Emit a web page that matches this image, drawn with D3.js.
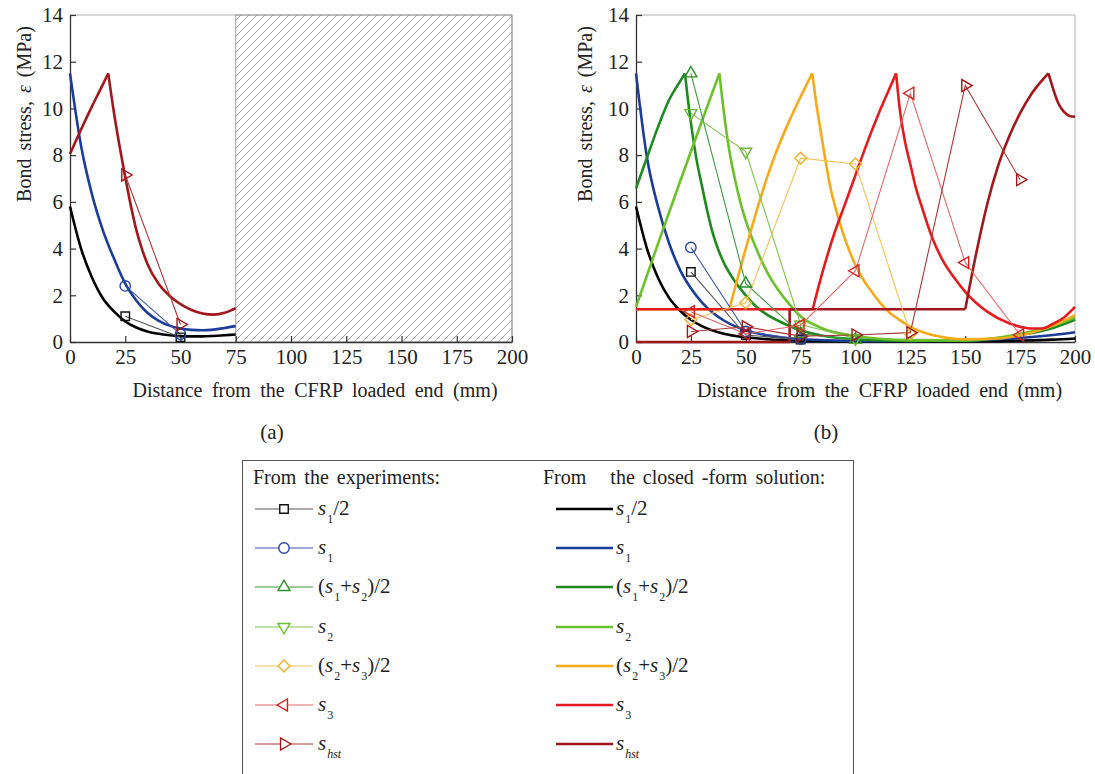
<!DOCTYPE html>
<html>
<head>
<meta charset="utf-8">
<script src="https://cdn.jsdelivr.net/npm/d3@7"></script>
<style>
  html, body { margin: 0; padding: 0; background: #fff; }
  svg { display: block; }
</style>
</head>
<body>
<div id="chart"></div>
<script>
// ---------------- DATA ----------------
const xTicks = [0, 25, 50, 75, 100, 125, 150, 175, 200];
const yTicks = [0, 2, 4, 6, 8, 10, 12, 14];

const seriesKeys = ["s1half", "s1", "s12", "s2", "s23", "s3", "shst"];
const closedColors = ["#000000", "#1c3c9a", "#1f8a1f", "#6cc02a", "#f4aa1c", "#e31b1e", "#a0181c"];
const expLineColors = ["#555555", "#3a55a5", "#3f9a3f", "#82c44e", "#f2c25a", "#e26a6a", "#a83838"];
const expMarkerColors = ["#111111", "#2347a6", "#2a8f2a", "#6cbd3a", "#f0b030", "#d42020", "#a01818"];
const markerTypes = ["square", "circle", "triUp", "triDown", "diamond", "triLeft", "triRight"];

// Panel (a): closed-form solution pieces ([x, y] in mm / MPa)
const aClosedS1Half = [[[0,5.8],[5,4.0],[10,2.75],[15,1.85],[20,1.3],[25,0.88],[30,0.62],[35,0.45],[40,0.35],[45,0.29],[50,0.25],[55,0.24],[60,0.24],[65,0.26],[70,0.29],[75,0.32]]];
const aClosedS1 = [[[0,11.5],[5,8.4],[10,6.3],[15,4.75],[20,3.55],[25,2.5],[30,1.78],[35,1.25],[40,0.92],[45,0.7],[50,0.58],[55,0.52],[60,0.5],[65,0.53],[70,0.6],[75,0.68]]];
const aClosedShst = [
  [[0,8.05],[5,9.1],[10,10.1],[15,11.05],[17.3,11.5]],
  [[17.3,11.5],[20,9.75],[22.5,8.35],[25,7.05],[27.5,5.85],[30,4.8],[32.5,4.0],[35,3.35],[40,2.5],[45,1.98],[50,1.62],[55,1.37],[60,1.22],[65,1.17],[70,1.25],[75,1.45]]
];

// Panel (a): experiments
const aExpS1HalfX = [25, 50], aExpS1HalfY = [1.1, 0.2];
const aExpS1X = [25, 50],     aExpS1Y = [2.4, 0.33];
const aExpShstX = [25, 50],   aExpShstY = [7.15, 0.75];

// Panel (b): closed-form solution pieces
const bClosedS1Half = [[[0,5.8],[5,4.0],[10,2.75],[15,1.9],[20,1.35],[25,0.95],[30,0.68],[40,0.35],[50,0.2],[60,0.12],[75,0.06],[100,0.03],[125,0.02],[150,0.03],[175,0.06],[190,0.1],[200,0.15]]];
const bClosedS1 = [[[0,11.5],[5,7.9],[10,5.8],[15,4.25],[20,3.1],[25,2.3],[30,1.7],[35,1.25],[40,0.92],[50,0.5],[60,0.28],[75,0.12],[100,0.05],[125,0.04],[150,0.06],[175,0.17],[190,0.3],[200,0.42]]];
const bClosedS12 = [
  [[0,6.58],[5,7.9],[10,9.2],[15,10.35],[20,11.15],[22.3,11.5]],
  [[22.3,11.5],[23.5,10.5],[25,9.4],[27.5,7.85],[30,6.7],[32.5,5.6],[35,4.65],[37.5,3.95],[40,3.4],[45,2.6],[50,2.0],[55,1.5],[60,1.15],[65,0.9],[75,0.5],[85,0.27],[100,0.12],[125,0.05],[150,0.06],[175,0.3],[190,0.6],[200,0.95]]
];
const bClosedS2 = [
  [[0,1.5],[10,4.2],[20,6.85],[30,9.45],[38,11.5]],
  [[38,11.5],[40,9.85],[42.5,8.2],[45,7.0],[47.5,6.0],[50,5.2],[55,3.95],[60,2.95],[65,2.2],[70,1.6],[75,1.1],[85,0.58],[100,0.26],[125,0.08],[150,0.07],[175,0.35],[190,0.7],[200,1.05]]
];
const bClosedS23 = [
  [[0,1.4],[42.5,1.4]],
  [[42.5,1.4],[50,4.0],[56.5,6.1],[61,7.4],[65,8.4],[70,9.5],[75,10.5],[80.3,11.5]],
  [[80.3,11.5],[82,10.3],[84,9.1],[86,7.95],[88.5,6.65],[91,5.7],[93,5.05],[96,4.2],[99,3.5],[103,2.75],[107,2.2],[111,1.7],[116,1.22],[120,0.95],[125,0.65],[135,0.3],[150,0.12],[165,0.15],[180,0.4],[190,0.7],[200,1.15]]
];
const bClosedS3 = [
  [[0,1.4],[80.5,1.4]],
  [[80.5,1.4],[85,3.0],[90,4.55],[95,5.85],[100,7.15],[105,8.45],[110,9.65],[115,10.75],[118.5,11.5]],
  [[118.5,11.5],[120,10.1],[122.5,8.6],[125,7.6],[127.5,6.6],[130,5.85],[135,4.45],[140,3.45],[145,2.75],[150,2.15],[160,1.3],[170,0.8],[180,0.58],[185,0.58],[190,0.78],[195,1.05],[200,1.5]]
];
const bClosedShst = [
  [[0,0],[70,0]],
  [[70,0],[70,1.4]],
  [[70,1.4],[150,1.4]],
  [[150,1.4],[155,3.8],[160,5.9],[165,7.55],[170,8.8],[175,9.8],[180,10.6],[185,11.2],[187.9,11.5]],
  [[187.9,11.5],[190,10.85],[192.5,10.2],[195,9.85],[197.5,9.68],[200,9.65]]
];

// Panel (b): experiments
const bExpS1HalfX = [25, 50, 75],   bExpS1HalfY = [3.0, 0.3, 0.1];
const bExpS1X = [25, 50, 75],       bExpS1Y = [4.05, 0.45, 0.12];
const bExpS12X = [25, 50, 75, 100], bExpS12Y = [11.5, 2.5, 0.35, 0.1];
const bExpS2X = [25, 50, 75, 100],  bExpS2Y = [9.8, 8.15, 0.75, 0.15];
const bExpS23X = [25, 50, 75, 100, 125], bExpS23Y = [0.95, 1.68, 7.87, 7.62, 0.35];
const bExpS3X = [25, 50, 75, 100, 125, 150, 175], bExpS3Y = [1.3, 0.35, 0.72, 3.05, 10.65, 3.4, 0.3];
const bExpShstX = [25, 50, 75, 100, 125, 150, 175], bExpShstY = [0.45, 0.65, 0.25, 0.3, 0.4, 10.98, 6.95];

// Legend labels (tokens: italic / subscript)
const legendLabels = [
  [{t:"s",it:1},{t:"1",sub:1},{t:"/2"}],
  [{t:"s",it:1},{t:"1",sub:1}],
  [{t:"("},{t:"s",it:1},{t:"1",sub:1},{t:"+"},{t:"s",it:1},{t:"2",sub:1},{t:")/2"}],
  [{t:"s",it:1},{t:"2",sub:1}],
  [{t:"("},{t:"s",it:1},{t:"2",sub:1},{t:"+"},{t:"s",it:1},{t:"3",sub:1},{t:")/2"}],
  [{t:"s",it:1},{t:"3",sub:1}],
  [{t:"s",it:1},{t:"hst",sub:1,it:1}]
];

// ---------------- DRAW ----------------
const W = 1095, H = 774;
const FONT = "'Liberation Serif','Times New Roman',serif";
const svg = d3.select("#chart").append("svg").attr("width", W).attr("height", H)
  .style("background", "#fff");

const defs = svg.append("defs");
const pat = defs.append("pattern").attr("id", "hatch").attr("patternUnits", "userSpaceOnUse")
  .attr("width", 8).attr("height", 8);
pat.append("path").attr("d", "M-2,2 L2,-2 M0,8 L8,0 M6,10 L10,6")
  .attr("stroke", "#9a9a9a").attr("stroke-width", 0.9);

function markerPath(type) {
  const tri = d3.symbol(d3.symbolTriangle, 62)();
  switch (type) {
    case "square": return {d: d3.symbol(d3.symbolSquare, 72)(), rot: 0};
    case "circle": return {d: d3.symbol(d3.symbolCircle, 85)(), rot: 0};
    case "diamond": return {d: d3.symbol(d3.symbolSquare, 70)(), rot: 45};
    case "triUp": return {d: tri, rot: 0};
    case "triDown": return {d: tri, rot: 180};
    case "triLeft": return {d: tri, rot: -90};
    case "triRight": return {d: tri, rot: 90};
  }
}

function panel(opt) {
  const x = d3.scaleLinear().domain([0, 200]).range([opt.x0, opt.x1]);
  const y = d3.scaleLinear().domain([0, 14]).range([342, 15]);
  const g = svg.append("g");

  // frame (top / right)
  g.append("line").attr("x1", x(0)).attr("x2", x(200)).attr("y1", y(14)).attr("y2", y(14))
    .attr("stroke", "#b0b0b0").attr("stroke-width", 1);
  g.append("line").attr("x1", x(200)).attr("x2", x(200)).attr("y1", y(14)).attr("y2", y(0))
    .attr("stroke", "#b0b0b0").attr("stroke-width", 1);

  if (opt.hatchFrom != null) {
    g.append("rect").attr("x", x(opt.hatchFrom)).attr("y", y(14))
      .attr("width", x(200) - x(opt.hatchFrom)).attr("height", y(0) - y(14))
      .attr("fill", "url(#hatch)").attr("stroke", "#9a9a9a").attr("stroke-width", 1);
  }

  const line = d3.line().x(d => x(d[0])).y(d => y(d[1])).curve(d3.curveMonotoneX);

  // axes
  const xa = g.append("g").attr("transform", `translate(0,${y(0)})`)
    .call(d3.axisBottom(x).tickValues(xTicks).tickSizeInner(-6).tickSizeOuter(0).tickPadding(7));
  const ya = g.append("g").attr("transform", `translate(${x(0)},0)`)
    .call(d3.axisLeft(y).tickValues(yTicks).tickSizeInner(-6).tickSizeOuter(0).tickPadding(7));
  [xa, ya].forEach(a => {
    a.select(".domain").attr("stroke", "#333").attr("stroke-width", 1.3);
    a.selectAll(".tick line").attr("stroke", "#333").attr("stroke-width", 1.2);
    a.selectAll(".tick text").attr("font-family", FONT).attr("font-size", 21).attr("fill", "#222");
  });

  // closed-form curves
  opt.closed.forEach(c => {
    c.pieces.forEach(p => {
      g.append("path").attr("d", line(p)).attr("fill", "none")
        .attr("stroke", closedColors[c.i]).attr("stroke-width", 2.6)
        .attr("stroke-linejoin", "miter").attr("stroke-linecap", "butt");
    });
  });

  // experiments
  const lin = d3.line().x(d => x(d[0])).y(d => y(d[1]));
  opt.exp.forEach(e => {
    const pts = e.xs.map((v, k) => [v, e.ys[k]]);
    g.append("path").attr("d", lin(pts)).attr("fill", "none")
      .attr("stroke", expLineColors[e.i]).attr("stroke-width", 1.1);
  });
  opt.exp.forEach(e => {
    const m = markerPath(markerTypes[e.i]);
    e.xs.forEach((v, k) => {
      g.append("path").attr("d", m.d)
        .attr("transform", `translate(${x(v)},${y(e.ys[k])}) rotate(${m.rot})`)
        .attr("fill", "none").attr("stroke", expMarkerColors[e.i]).attr("stroke-width", 1.4);
    });
  });

  // axis titles
  const yt = g.append("text").attr("transform", `translate(${opt.yTitleX},114) rotate(-90)`)
    .attr("text-anchor", "middle").attr("dominant-baseline", "central")
    .attr("font-family", FONT).attr("font-size", 20).attr("fill", "#222").style("word-spacing", "3px");
  yt.append("tspan").text("Bond stress, ");
  yt.append("tspan").attr("font-style", "italic").text("ε");
  yt.append("tspan").text(" (MPa)");

  g.append("text").attr("x", (x(0) + x(200)) / 2 + 24).attr("y", 397).attr("text-anchor", "middle")
    .attr("font-family", FONT).attr("font-size", 20).attr("fill", "#222").style("word-spacing", "4.5px")
    .text("Distance from the CFRP loaded end (mm)");

  g.append("text").attr("x", opt.tagX).attr("y", 439).attr("text-anchor", "middle")
    .attr("font-family", FONT).attr("font-size", 21).attr("fill", "#222").text(opt.tag);
}

panel({
  x0: 70, x1: 512, hatchFrom: 75, yTitleX: 24, tagX: 272, tag: "(a)",
  closed: [
    {i: 0, pieces: aClosedS1Half},
    {i: 1, pieces: aClosedS1},
    {i: 6, pieces: aClosedShst}
  ],
  exp: [
    {i: 0, xs: aExpS1HalfX, ys: aExpS1HalfY},
    {i: 1, xs: aExpS1X, ys: aExpS1Y},
    {i: 6, xs: aExpShstX, ys: aExpShstY}
  ]
});

panel({
  x0: 636, x1: 1075, hatchFrom: null, yTitleX: 585, tagX: 826, tag: "(b)",
  closed: [
    {i: 0, pieces: bClosedS1Half},
    {i: 1, pieces: bClosedS1},
    {i: 2, pieces: bClosedS12},
    {i: 3, pieces: bClosedS2},
    {i: 4, pieces: bClosedS23},
    {i: 5, pieces: bClosedS3},
    {i: 6, pieces: bClosedShst}
  ],
  exp: [
    {i: 0, xs: bExpS1HalfX, ys: bExpS1HalfY},
    {i: 1, xs: bExpS1X, ys: bExpS1Y},
    {i: 2, xs: bExpS12X, ys: bExpS12Y},
    {i: 3, xs: bExpS2X, ys: bExpS2Y},
    {i: 4, xs: bExpS23X, ys: bExpS23Y},
    {i: 5, xs: bExpS3X, ys: bExpS3Y},
    {i: 6, xs: bExpShstX, ys: bExpShstY}
  ]
});

// ---------------- LEGEND ----------------
const lg = svg.append("g");
lg.append("rect").attr("x", 242.5).attr("y", 460.5).attr("width", 611).attr("height", 330)
  .attr("fill", "#fff").attr("stroke", "#555").attr("stroke-width", 1);

lg.append("text").attr("x", 253).attr("y", 484).attr("font-family", FONT).attr("font-size", 20)
  .attr("fill", "#222").style("word-spacing", "3px").text("From the experiments:");
lg.append("text").attr("x", 543).attr("y", 484).attr("font-family", FONT).attr("font-size", 20)
  .attr("fill", "#222").attr("xml:space", "preserve").style("word-spacing", "3px")
  .text("From   the closed -form solution:");

function drawLabel(x, y, tokens) {
  const t = lg.append("text").attr("x", x).attr("y", y).attr("font-family", FONT)
    .attr("font-size", 21).attr("fill", "#222");
  let down = false;
  tokens.forEach(tok => {
    const ts = t.append("tspan").text(tok.t);
    if (tok.it) ts.attr("font-style", "italic");
    if (tok.sub) {
      ts.attr("font-size", 12);
      if (!down) { ts.attr("dy", 8).attr("dx", 1); down = true; }
    } else if (down) {
      ts.attr("dy", -8); down = false;
    }
  });
}

const rowY = [509, 548, 587, 627, 666, 705, 744];
seriesKeys.forEach((k, i) => {
  const yy = rowY[i];
  // experiments column
  lg.append("line").attr("x1", 255).attr("x2", 313).attr("y1", yy).attr("y2", yy)
    .attr("stroke", expLineColors[i]).attr("stroke-width", 1.2);
  const m = markerPath(markerTypes[i]);
  lg.append("path").attr("d", m.d).attr("transform", `translate(284,${yy}) rotate(${m.rot})`)
    .attr("fill", "#fff").attr("stroke", expMarkerColors[i]).attr("stroke-width", 1.4);
  drawLabel(318, yy + 6, legendLabels[i]);
  // closed-form column
  lg.append("line").attr("x1", 556).attr("x2", 613).attr("y1", yy).attr("y2", yy)
    .attr("stroke", closedColors[i]).attr("stroke-width", 2.6);
  drawLabel(616, yy + 6, legendLabels[i]);
});
</script>
</body>
</html>
